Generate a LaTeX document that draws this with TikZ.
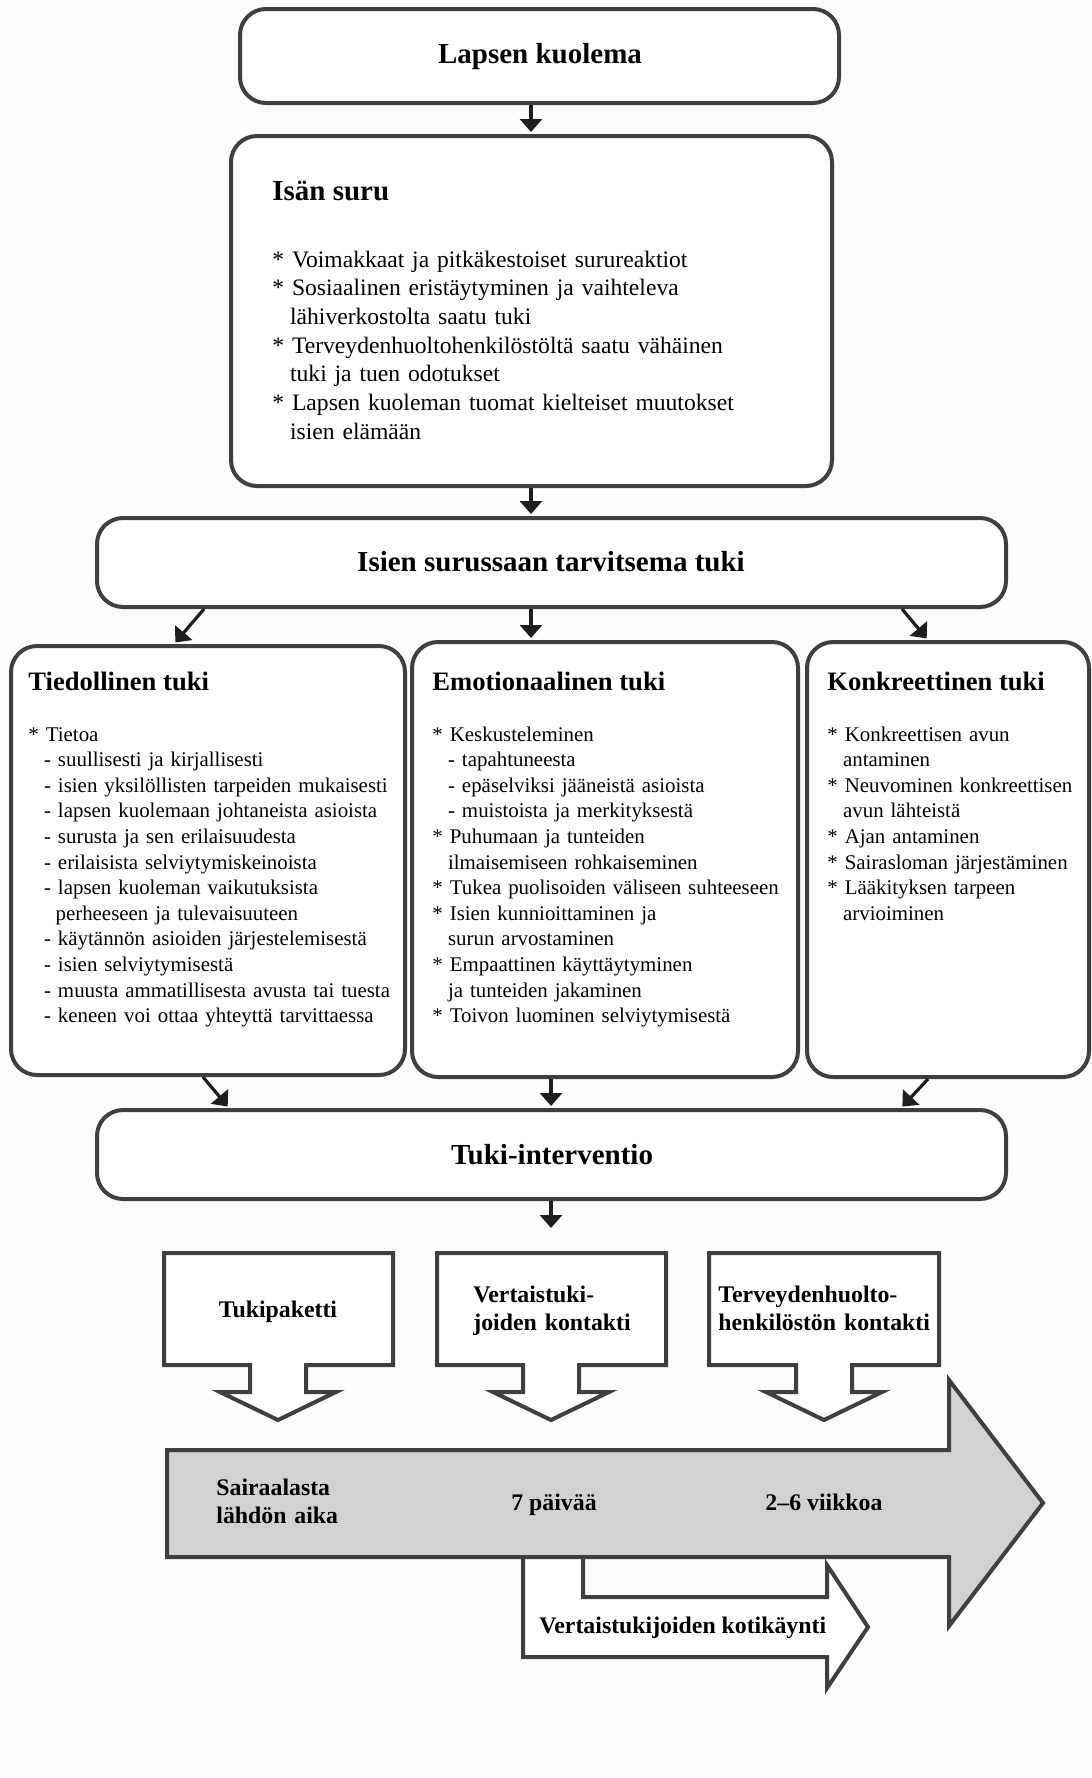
\documentclass[tikz,border=0pt]{standalone}
\usepackage{fontspec}
\setmainfont{Liberation Serif}
\usetikzlibrary{fit,arrows.meta}
\definecolor{edge}{HTML}{3F3F3F}
\definecolor{ink}{HTML}{1E1E1E}
\definecolor{band}{HTML}{D2D2D2}
\definecolor{paper}{HTML}{FCFCFC}
% bullet mark, and indents for continuation lines of bullet and dash items
\newcommand{\st}{{*}}
\newcommand{\bi}{\hspace*{0.75em}}
\newcommand{\di}{\hspace*{1.3em}}
\begin{document}
\begin{tikzpicture}[x=0.5pt,y=-0.5pt,
  rbox/.style={draw=edge,line width=2pt,rounded corners=13pt,inner sep=0pt,fill=white},
  conn/.style={draw=ink,line width=1.6pt,-{Triangle[length=6.5pt,width=11pt]},shorten >=1pt},
  blk/.style={draw=edge,line width=2pt,line join=miter},
  title/.style={font=\fontsize{14.5}{17}\selectfont\bfseries,anchor=base,inner sep=0pt},
  ctitle/.style={font=\fontsize{13.3}{16}\selectfont\bfseries,anchor=base west,inner sep=0pt},
  body/.style={font=\fontsize{11.8}{14.35}\selectfont,anchor=base west,inner sep=0pt,text width=260pt,align=left},
  cbody/.style={font=\fontsize{10.45}{12.8}\selectfont,anchor=base west,inner sep=0pt,text width=190pt,align=left},
  lbl/.style={font=\fontsize{11.9}{14}\selectfont\bfseries,inner sep=0pt},
  lbl2/.style={lbl,anchor=base west,text width=120pt,align=left},
]
\useasboundingbox (0,0) rectangle (1092,1778);
\fill[paper] (0,0) rectangle (1092,1778);

% ---- rounded boxes ----
\node[rbox,fit={(240,9) (839,103)}] (b1) {};
\node[rbox,fit={(231,136) (832,486)}] (b2) {};
\node[rbox,fit={(97,518) (1006,607)}] (b3) {};
\node[rbox,fit={(11,646) (405,1075)}] (c1) {};
\node[rbox,fit={(412,642) (798,1077)}] (c2) {};
\node[rbox,fit={(807,642) (1089,1077)}] (c3) {};
\node[rbox,fit={(97,1110) (1006,1199)}] (b4) {};

% ---- texts of the boxes ----
\node[title] (t1) at (540,63) {Lapsen kuolema};
\node[title,anchor=base west] (t2) at (272,200) {Isän suru};
\node[body] (t2b) at (272,267) {%
\st{} Voimakkaat ja pitkäkestoiset surureaktiot\\
\st{} Sosiaalinen eristäytyminen ja vaihteleva\\
\bi lähiverkostolta saatu tuki\\
\st{} Terveydenhuoltohenkilöstöltä saatu vähäinen\\
\bi tuki ja tuen odotukset\\
\st{} Lapsen kuoleman tuomat kielteiset muutokset\\
\bi isien elämään};
\node[title] (t3) at (551,571) {Isien surussaan tarvitsema tuki};

\node[ctitle] (h1) at (28,690) {Tiedollinen tuki};
\node[cbody] (l1) at (28,741) {%
\st{} Tietoa\\
\bi - suullisesti ja kirjallisesti\\
\bi - isien yksilöllisten tarpeiden mukaisesti\\
\bi - lapsen kuolemaan johtaneista asioista\\
\bi - surusta ja sen erilaisuudesta\\
\bi - erilaisista selviytymiskeinoista\\
\bi - lapsen kuoleman vaikutuksista\\
\di perheeseen ja tulevaisuuteen\\
\bi - käytännön asioiden järjestelemisestä\\
\bi - isien selviytymisestä\\
\bi - muusta ammatillisesta avusta tai tuesta\\
\bi - keneen voi ottaa yhteyttä tarvittaessa};

\node[ctitle] (h2) at (432,690) {Emotionaalinen tuki};
\node[cbody] (l2) at (432,741) {%
\st{} Keskusteleminen\\
\bi - tapahtuneesta\\
\bi - epäselviksi jääneistä asioista\\
\bi - muistoista ja merkityksestä\\
\st{} Puhumaan ja tunteiden\\
\bi ilmaisemiseen rohkaiseminen\\
\st{} Tukea puolisoiden väliseen suhteeseen\\
\st{} Isien kunnioittaminen ja\\
\bi surun arvostaminen\\
\st{} Empaattinen käyttäytyminen\\
\bi ja tunteiden jakaminen\\
\st{} Toivon luominen selviytymisestä};

\node[ctitle] (h3) at (827,690) {Konkreettinen tuki};
\node[cbody] (l3) at (827,741) {%
\st{} Konkreettisen avun\\
\bi antaminen\\
\st{} Neuvominen konkreettisen\\
\bi avun lähteistä\\
\st{} Ajan antaminen\\
\st{} Sairasloman järjestäminen\\
\st{} Lääkityksen tarpeen\\
\bi arvioiminen};

\node[title] (t4) at (552,1164) {Tuki-interventio};

% ---- connectors ----
\coordinate (xm) at (531,0);
\coordinate (xc) at (551,0);
\coordinate (s1) at (204,0);  \coordinate (e1) at (174,0);
\coordinate (s3) at (902,0);  \coordinate (e3) at (928,0);
\coordinate (u1) at (203,0);  \coordinate (v1) at (229,0);
\coordinate (u3) at (928,0);  \coordinate (v3) at (901,0);
\coordinate (iv) at (551,1230);

\draw[conn] (b1.south -| xm) -- (b2.north -| xm);
\draw[conn] (b2.south -| xm) -- (b3.north -| xm);
\draw[conn] (b3.south -| s1) -- (c1.north -| e1);
\draw[conn] (b3.south -| xm) -- (c2.north -| xm);
\draw[conn] (b3.south -| s3) -- (c3.north -| e3);
\draw[conn] (c1.south -| u1) -- (b4.north -| v1);
\draw[conn] (c2.south -| xc) -- (b4.north -| xc);
\draw[conn] (c3.south -| u3) -- (b4.north -| v3);
\draw[conn] (b4.south -| xc) -- (iv);

% ---- downward block arrows ----
\foreach \cx/\l/\r in {278/164/393, 551/437/666, 824/709/939}{
  \draw[blk,fill=white] (\l,1253) -- (\r,1253) -- (\r,1365) -- (\cx+28,1365)
    -- (\cx+28,1392) -- (\cx+58,1392) -- (\cx,1420) -- (\cx-58,1392)
    -- (\cx-28,1392) -- (\cx-28,1365) -- (\l,1365) -- cycle;
}
\node[lbl,anchor=base] (d1) at (278,1317) {Tukipaketti};
\node[lbl2] (d2) at (473,1302) {Vertaistuki-\\joiden kontakti};
\node[lbl2] (d3) at (718,1302) {Terveydenhuolto-\\henkilöstön kontakti};

% ---- time line ----
\draw[blk,fill=white] (583,1557) -- (583,1597) -- (827,1597) -- (827,1565)
  -- (868,1627) -- (827,1688) -- (827,1657) -- (523,1657) -- (523,1557);
\draw[blk,fill=band] (167,1450) -- (949,1450) -- (949,1380) -- (1043,1503)
  -- (949,1626) -- (949,1557) -- (167,1557) -- cycle;

\node[lbl2] (a1) at (216,1495) {Sairaalasta\\lähdön aika};
\node[lbl,anchor=base] (a2) at (554,1510) {7 päivää};
\node[lbl,anchor=base] (a3) at (824,1510) {2–6 viikkoa};
\node[lbl,anchor=base west] (a4) at (539,1633) {Vertaistukijoiden kotikäynti};
\end{tikzpicture}
\end{document}
